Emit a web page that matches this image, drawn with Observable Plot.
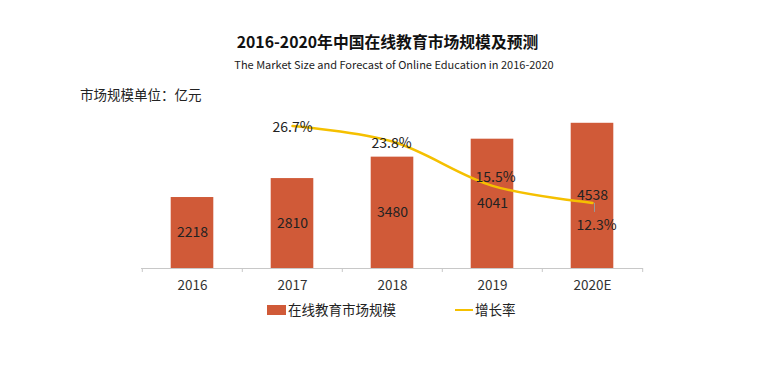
<!DOCTYPE html>
<html><head><meta charset="utf-8">
<script src="https://cdn.jsdelivr.net/npm/d3@7"></script>
<script src="https://cdn.jsdelivr.net/npm/@observablehq/plot@0.6"></script>
<style>
body{margin:0;background:#fff;font-family:"Noto Sans CJK SC","Noto Sans",sans-serif;}
#wrap{position:relative;width:763px;height:372px;overflow:hidden;}
.abs{position:absolute;white-space:nowrap;}
#title{left:0;width:775px;text-align:center;top:30px;font-size:15.8px;font-weight:bold;color:#111;line-height:24px;}
#sub{left:0;width:788px;text-align:center;top:55px;font-size:11px;color:#222;line-height:18px;}
#unit{left:80px;top:84px;font-size:13.5px;color:#222;line-height:20px;}
#chart{left:0;top:100px;}
.leg{top:300px;font-size:13.5px;color:#222;line-height:18px;}
</style></head>
<body><div id="wrap">
<div id="title" class="abs">2016-2020年中国在线教育市场规模及预测</div>
<div id="sub" class="abs">The Market Size and Forecast of Online Education in 2016-2020</div>
<div id="unit" class="abs">市场规模单位：亿元</div>
<div id="chart" class="abs"></div>
<div class="abs leg" style="left:267px;"><span style="display:inline-block;width:19px;height:10px;background:#d05a38;vertical-align:-0px;margin-right:2px;"></span>在线教育市场规模</div>
<div class="abs leg" style="left:455px;"><span style="display:inline-block;width:18px;height:2px;background:#f5c000;vertical-align:4px;margin-right:2px;"></span>增长率</div>
</div>
<script>
const years = ["2016", "2017", "2018", "2019", "2020E"];
const marketSize = [2218, 2810, 3480, 4041, 4538];
const rateYears = ["2017", "2018", "2019", "2020E"];
const growthRate = [26.7, 23.8, 15.5, 12.3];

// layout constants (not data)
const yMax = 5000, rateMax = 30, k = yMax / rateMax;
const rateLabelDx = [0, -1, 3, 4];
const rateLabelDy = [1, 2, -8, 23];

const bars = years.map((y, i) => ({year: y, value: marketSize[i]}));
const rates = rateYears.map((y, i) => ({year: y, rate: growthRate[i]}));

const W = 763, H = 230, mL = 141, mR = W - 643, mT = 8, mB = 62;
const step = (W - mL - mR) / years.length;
const inset = (step - 43) / 2;
const tickLen = 4 * yMax / (H - mT - mB);

const rateLabels = rates.map((d, i) => Plot.text([d], {
  x: "year", y: d => d.rate * k, text: d => d.rate.toFixed(1) + "%",
  dx: rateLabelDx[i], dy: rateLabelDy[i], fill: "#222", fontSize: 14
}));

const last = rates[rates.length - 1];

const plot = Plot.plot({
  width: W, height: H,
  marginLeft: mL, marginRight: mR, marginTop: mT, marginBottom: mB,
  style: {fontFamily: '"Noto Sans CJK SC","Noto Sans",sans-serif', background: "transparent"},
  x: {domain: years, padding: 0, label: null},
  y: {domain: [0, yMax], axis: null},
  marks: [
    Plot.barY(bars, {x: "year", y: "value", fill: "#d05a38", insetLeft: inset, insetRight: inset}),
    Plot.ruleY([0], {stroke: "#c8c8c8", strokeWidth: 1.2}),
    Plot.ruleX(years, {x: d => d, dx: -step / 2, y1: 0, y2: -tickLen, stroke: "#c8c8c8"}),
    Plot.ruleX([years[years.length - 1]], {x: d => d, dx: step / 2, y1: 0, y2: -tickLen, stroke: "#c8c8c8"}),
    Plot.axisX({tickSize: 0, tickPadding: 12, fontSize: 13.5, fill: "#333", label: null}),
    Plot.text(bars, {x: "year", y: d => d.value / 2, text: d => String(d.value), fill: "#222", fontSize: 14}),
    Plot.line(rates, {x: "year", y: d => d.rate * k, stroke: "#f5c000", strokeWidth: 2.5, curve: "catmull-rom"}),
    Plot.link([last], {x1: "year", x2: "year", y1: d => d.rate * k, y2: d => (d.rate - 1.7) * k, dx: 2, stroke: "#999", strokeWidth: 1}),
    ...rateLabels
  ]
});
document.getElementById("chart").appendChild(plot);
</script>
</body></html>
